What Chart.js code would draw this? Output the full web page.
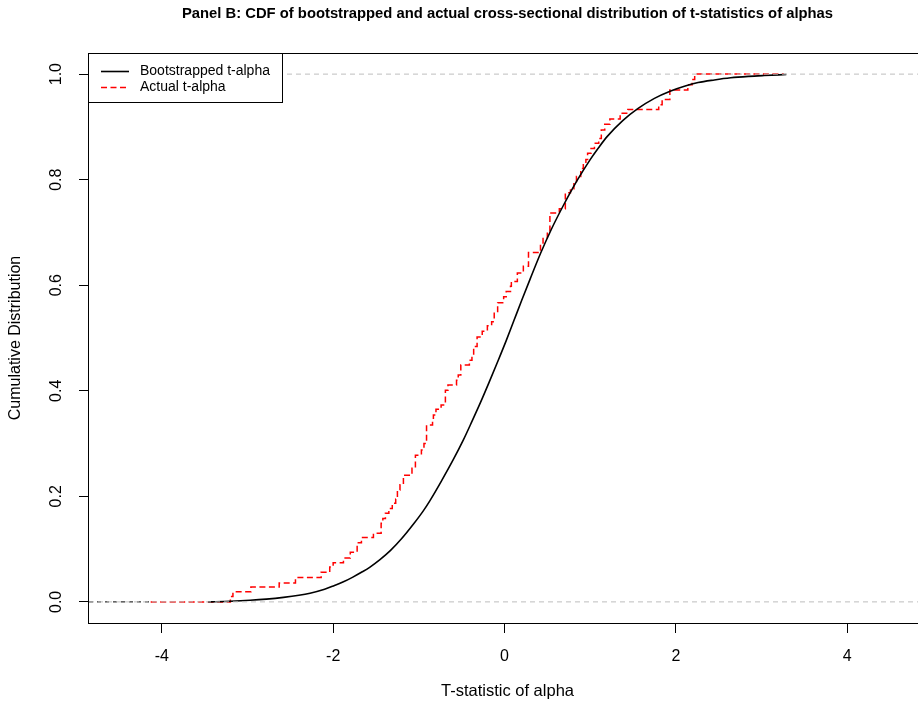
<!DOCTYPE html>
<html>
<head>
<meta charset="utf-8">
<script src="https://cdn.jsdelivr.net/npm/chart.js@4.4.0/dist/chart.umd.min.js"></script>
<style>
  html, body { margin: 0; padding: 0; background: #fff; overflow: hidden; width: 918px; height: 709px; }
  #cdf { display: block; }
</style>
</head>
<body>
<canvas id="cdf" width="926" height="709"></canvas>
<script>
const FONT = '"Liberation Sans", Arial, sans-serif';
const TITLE = 'Panel B: CDF of bootstrapped and actual cross-sectional distribution of t-statistics of alphas';
const X_TICKS = [-4, -2, 0, 2, 4];
const Y_TICKS = [0, 0.2, 0.4, 0.6, 0.8, 1.0];
const X_RANGE = [-4.85, 4.92];

// Bootstrapped t-alpha CDF
const bootX = [-3.46, -3.20, -2.97, -2.78, -2.58, -2.40, -2.27, -2.10, -2.00, -1.88, -1.77, -1.66, -1.57, -1.45,
  -1.33, -1.20, -1.06, -0.95, -0.87, -0.74, -0.60, -0.48, -0.38, -0.28, -0.18, -0.08, 0.02, 0.11, 0.20, 0.30,
  0.42, 0.55, 0.69, 0.85, 1.00, 1.10, 1.20, 1.38, 1.56, 1.75, 1.94, 2.10, 2.26, 2.45, 2.64, 2.85, 3.03, 3.29];
const bootY = [0.000, 0.0012, 0.003, 0.0052, 0.0085, 0.0125, 0.0165, 0.024, 0.030, 0.038, 0.047, 0.057, 0.066, 0.0805,
  0.0975, 0.120, 0.148, 0.172, 0.192, 0.228, 0.269, 0.307, 0.342, 0.378, 0.416, 0.455, 0.495, 0.533, 0.571, 0.612,
  0.660, 0.707, 0.752, 0.799, 0.838, 0.861, 0.882, 0.912, 0.935, 0.954, 0.968, 0.977, 0.984, 0.989, 0.993, 0.9957,
  0.9973, 0.9992];

// Actual t-alpha ECDF: x of each jump and the level after it
const actualX = [-4.13, -3.20, -3.17, -2.96, -2.63, -2.44, -2.14, -2.04, -2.00, -1.88, -1.80, -1.72, -1.67, -1.53,
  -1.44, -1.42, -1.39, -1.35, -1.31, -1.27, -1.25, -1.22, -1.18, -1.08, -1.04, -0.97, -0.94, -0.91, -0.84, -0.83,
  -0.80, -0.74, -0.69, -0.66, -0.56, -0.54, -0.51, -0.41, -0.38, -0.36, -0.32, -0.26, -0.20, -0.15, -0.12, -0.08,
  -0.01, 0.02, 0.07, 0.08, 0.15, 0.22, 0.28, 0.42, 0.45, 0.50, 0.53, 0.64, 0.71, 0.77, 0.81, 0.84, 0.89, 0.92,
  0.95, 0.97, 1.01, 1.05, 1.10, 1.13, 1.17, 1.23, 1.35, 1.44, 1.80, 1.84, 1.93, 2.14, 2.19, 2.22, 3.26];
const actualY = [0, 0.010, 0.019, 0.028, 0.036, 0.046, 0.056, 0.066, 0.074, 0.083, 0.094, 0.112, 0.122, 0.130,
  0.149, 0.158, 0.168, 0.177, 0.187, 0.195, 0.212, 0.222, 0.240, 0.253, 0.278, 0.288, 0.300, 0.335, 0.345, 0.354,
  0.365, 0.373, 0.401, 0.411, 0.420, 0.430, 0.449, 0.458, 0.468, 0.484, 0.502, 0.513, 0.523, 0.531, 0.550, 0.567,
  0.578, 0.588, 0.598, 0.607, 0.623, 0.636, 0.662, 0.678, 0.690, 0.703, 0.737, 0.745, 0.775, 0.783, 0.795, 0.806,
  0.821, 0.830, 0.838, 0.850, 0.859, 0.869, 0.878, 0.894, 0.905, 0.915, 0.926, 0.933, 0.942, 0.952, 0.970, 0.980,
  0.990, 1.000, 1.000];

// left tail of the plot (dotted black at zero)
const tailX = [-4.85, -4.13];
const tailY = [0, 0];

const toPoints = (xs, ys) => xs.map((x, i) => ({ x: x, y: ys[i] }));

// R-style frame, title over the plot region, rotated y labels and boxed legend
const rStyle = {
  id: 'rStyle',
  afterDraw(chart) {
    const { ctx, chartArea: a, scales } = chart;
    ctx.save();
    ctx.strokeStyle = '#000';
    ctx.lineWidth = 1;
    ctx.setLineDash([]);
    ctx.strokeRect(a.left - 0.5, a.top + 0.5, a.right - a.left + 1, a.bottom - a.top);

    ctx.fillStyle = '#000';
    ctx.textAlign = 'center';
    ctx.textBaseline = 'middle';
    ctx.font = 'bold 14.8px ' + FONT;
    ctx.fillText(TITLE, (a.left + a.right) / 2, 14);

    // y tick labels, vertical like R's las=0
    const ys = scales.y;
    ctx.font = '16px ' + FONT;
    ys.ticks.forEach(t => {
      ctx.save();
      ctx.translate(57, ys.getPixelForValue(t.value));
      ctx.rotate(-Math.PI / 2);
      ctx.fillText(t.value.toFixed(1), 0, 0);
      ctx.restore();
    });

    // legend
    const lx = a.left - 1, ly = a.top, lw = 194, lh = 49;
    ctx.fillStyle = '#fff';
    ctx.fillRect(lx, ly, lw, lh);
    ctx.strokeRect(lx + 0.5, ly + 0.5, lw, lh);
    ctx.font = '14px ' + FONT;
    ctx.textAlign = 'left';
    chart.data.datasets.filter(d => d.inLegend).forEach((d, i) => {
      const y = ly + 18.5 + i * 16;
      ctx.strokeStyle = d.borderColor;
      ctx.lineWidth = d.borderWidth;
      ctx.setLineDash(d.borderDash || []);
      ctx.beginPath();
      ctx.moveTo(lx + 13, y);
      ctx.lineTo(lx + 41, y);
      ctx.stroke();
      ctx.fillStyle = '#000';
      ctx.fillText(d.label, lx + 52, y);
    });
    ctx.restore();
  }
};

const config = {
  type: 'line',
  data: {
    datasets: [
      { label: 'zero', data: toPoints(X_RANGE, [0, 0]), borderColor: '#bebebe', borderDash: [5, 4], borderWidth: 1 },
      { label: 'one', data: toPoints(X_RANGE, [1, 1]), borderColor: '#bebebe', borderDash: [5, 4], borderWidth: 1 },
      { label: 'tail', data: toPoints(tailX, tailY), borderColor: '#000', borderDash: [4, 4], borderWidth: 1 },
      {
        label: 'Bootstrapped t-alpha', inLegend: true,
        data: toPoints(bootX, bootY), borderColor: '#000', borderWidth: 1.6,
        cubicInterpolationMode: 'monotone'
      },
      {
        label: 'Actual t-alpha', inLegend: true,
        data: toPoints(actualX, actualY), borderColor: '#ff0000', borderDash: [6, 3.5], borderWidth: 1.5,
        stepped: 'before'
      }
    ]
  },
  options: {
    responsive: false,
    animation: false,
    devicePixelRatio: 1,
    elements: { point: { radius: 0 } },
    layout: { padding: { top: 53, left: 0, right: 0, bottom: 0 } },
    plugins: {
      legend: { display: false },
      tooltip: { enabled: false },
      title: { display: false }
    },
    scales: {
      x: {
        type: 'linear',
        min: X_RANGE[0], max: X_RANGE[1],
        afterBuildTicks: s => { s.ticks = X_TICKS.map(v => ({ value: v })); },
        afterFit: s => { s.height = 86; },
        grid: { drawOnChartArea: false, drawTicks: true, tickLength: 10, color: '#000', lineWidth: 1 },
        border: { display: false },
        ticks: { color: '#000', font: { family: FONT, size: 16 }, padding: 14, maxRotation: 0 },
        title: {
          display: true, text: 'T-statistic of alpha', color: '#000',
          font: { family: FONT, size: 16.5 }, padding: { top: 0, bottom: 8 }
        }
      },
      y: {
        type: 'linear',
        min: -0.04, max: 1.04,
        afterBuildTicks: s => { s.ticks = Y_TICKS.map(v => ({ value: v })); },
        afterFit: s => { s.width = 89; },
        grid: { drawOnChartArea: false, drawTicks: true, tickLength: 10, color: '#000', lineWidth: 1 },
        border: { display: false },
        ticks: { display: false },
        title: {
          display: true, text: 'Cumulative Distribution', color: '#000',
          font: { family: FONT, size: 16 }, padding: { top: 6, bottom: 0 }
        }
      }
    }
  },
  plugins: [rStyle]
};

new Chart(document.getElementById('cdf').getContext('2d'), config);
</script>
</body>
</html>
